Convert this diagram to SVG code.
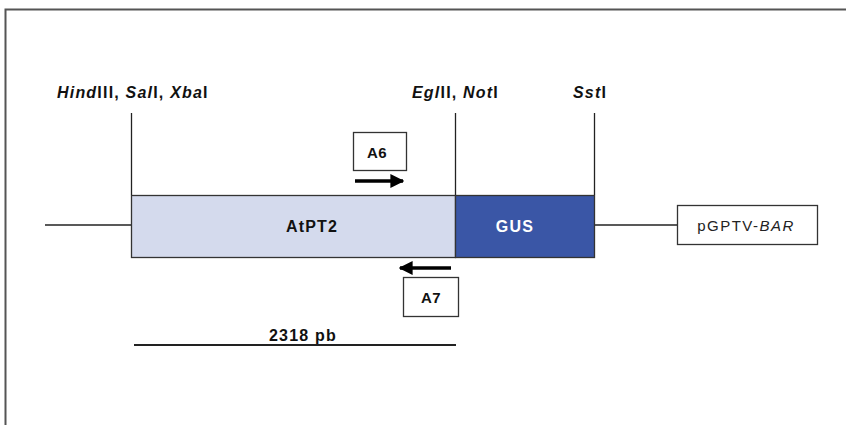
<svg xmlns="http://www.w3.org/2000/svg" width="846" height="425" viewBox="0 0 846 425">
<style>
.ln{stroke:#222;stroke-width:1.3;fill:none}
.box{fill:#fff;stroke:#333;stroke-width:1.3}
.lab{font-family:"Liberation Sans",Arial,sans-serif;font-size:16px;font-weight:bold;fill:#111;letter-spacing:1.2px}
.it{font-style:italic}
</style>
<defs>
<marker id="ah" viewBox="0 0 10 10" refX="9" refY="5" markerWidth="4" markerHeight="4" orient="auto"><path d="M0,0L10,5L0,10z" fill="#000"/></marker>
</defs>
<rect width="846" height="425" fill="#fff"/>
<path d="M5.5,425V9.5H846" stroke="#555" stroke-width="2" fill="none"/>
<g id="connectors">
<line class="ln" x1="45" y1="225" x2="131" y2="225"/>
<line class="ln" x1="594" y1="225" x2="677" y2="225"/>
<line class="ln" x1="131.5" y1="113" x2="131.5" y2="195"/>
<line class="ln" x1="455.5" y1="113" x2="455.5" y2="195"/>
<line class="ln" x1="594.5" y1="113" x2="594.5" y2="195"/>
<line x1="355" y1="181" x2="403" y2="181" stroke="#000" stroke-width="3.5" marker-end="url(#ah)"/>
<line x1="451" y1="268" x2="400" y2="268" stroke="#000" stroke-width="3.5" marker-end="url(#ah)"/>
<line x1="134" y1="345" x2="456" y2="345" stroke="#222" stroke-width="1.8"/>
</g>
<g id="sites">
<text class="lab" x="57" y="98"><tspan class="it">Hind</tspan>III, <tspan class="it">Sal</tspan>I, <tspan class="it">Xba</tspan>I</text>
<text class="lab" x="412" y="98"><tspan class="it">Egl</tspan>II, <tspan class="it">Not</tspan>I</text>
<text class="lab" x="573" y="98"><tspan class="it">Sst</tspan>I</text>
</g>
<g id="atpt2">
<rect x="131.5" y="195.5" width="324" height="62" fill="#d4daed" stroke="#333" stroke-width="1.3"/>
<text class="lab" x="312" y="232" text-anchor="middle">AtPT2</text>
</g>
<g id="gus">
<rect x="455.5" y="195.5" width="139" height="62" fill="#3a56a6" stroke="#333" stroke-width="1.3"/>
<text class="lab" x="515" y="232" text-anchor="middle" style="fill:#fff">GUS</text>
</g>
<g id="a6">
<rect class="box" x="353.5" y="132.5" width="53" height="38"/>
<text class="lab" x="377" y="158" text-anchor="middle" style="font-size:15px;letter-spacing:0.5px">A6</text>
</g>
<g id="a7">
<rect class="box" x="403.5" y="277.5" width="55" height="39"/>
<text class="lab" x="431" y="303" text-anchor="middle" style="font-size:15px;letter-spacing:0.5px">A7</text>
</g>
<g id="pgptv">
<rect class="box" x="677.5" y="205.5" width="140" height="39"/>
<text x="746" y="231" text-anchor="middle" font-family="Liberation Sans,Arial,sans-serif" font-size="15" letter-spacing="1.5" fill="#222">pGPTV-<tspan font-style="italic">BAR</tspan></text>
</g>
<g id="scale">
<text class="lab" x="303" y="341" text-anchor="middle">2318 pb</text>
</g>
</svg>
